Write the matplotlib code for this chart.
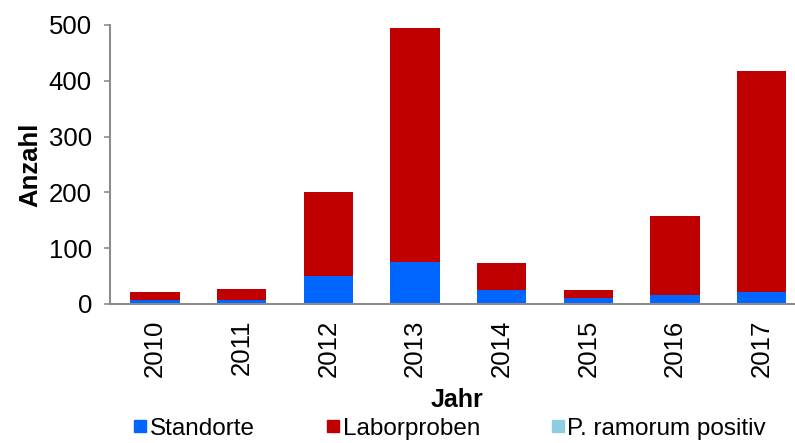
import numpy as np
import matplotlib.pyplot as plt
from matplotlib.lines import Line2D

plt.rcParams['font.family'] = ['Liberation Sans', 'DejaVu Sans']

# counts per year
jahre = ['2010', '2011', '2012', '2013', '2014', '2015', '2016', '2017']
standorte = [7, 8, 50, 76, 25, 11, 16, 21]
laborproben = [15, 19, 150, 419, 48, 14, 142, 397]
ramorum_positiv = [0, 0, 0, 0, 0, 0, 0, 0]

c_standorte = '#0066ff'
c_labor = '#c00000'
c_ramorum = '#8ccde0'
grau = '#8c8c8c'
fs = 18.5

fig = plt.figure(figsize=(7.95, 4.43), dpi=100)
ax = fig.add_axes([0.1384, 0.3138, 0.872, 0.6298])

x = np.arange(len(jahre))
w = 0.57
ax.bar(x, standorte, w, color=c_standorte)
ax.bar(x, laborproben, w, bottom=standorte, color=c_labor)
unten = np.array(standorte) + np.array(laborproben)
ax.bar(x, ramorum_positiv, w, bottom=unten, color=c_ramorum)

ax.set_xlim(-0.52, 7.48)
ax.set_ylim(0, 500)
ax.set_yticks([0, 100, 200, 300, 400, 500])
ax.set_xticks(x)
ax.set_xticklabels(jahre, rotation=90, fontsize=fs)
ax.tick_params(axis='x', length=0, pad=11)
ax.tick_params(axis='y', labelsize=fs, length=4, color=grau, width=1.2, pad=9)

for s in ['top', 'right']:
    ax.spines[s].set_visible(False)
for s in ['left', 'bottom']:
    ax.spines[s].set_color(grau)
    ax.spines[s].set_linewidth(1.5)

ax.set_ylabel('Anzahl', fontsize=fs, fontweight='bold', labelpad=5)
fig.text(0.575, 0.097, 'Jahr', fontsize=18, fontweight='bold', ha='center', va='center')

handles = [Line2D([], [], marker='s', linestyle='none', markersize=8, color=c)
           for c in (c_standorte, c_labor, c_ramorum)]
fig.legend(handles, ['Standorte', 'Laborproben', 'P. ramorum positiv'],
           loc='center', bbox_to_anchor=(0.567, 0.032), ncol=3, frameon=False,
           fontsize=17.5, handlelength=0.4, handletextpad=0.2, columnspacing=3.0,
           borderpad=0, borderaxespad=0)

fig.savefig('out.png', dpi=100)
